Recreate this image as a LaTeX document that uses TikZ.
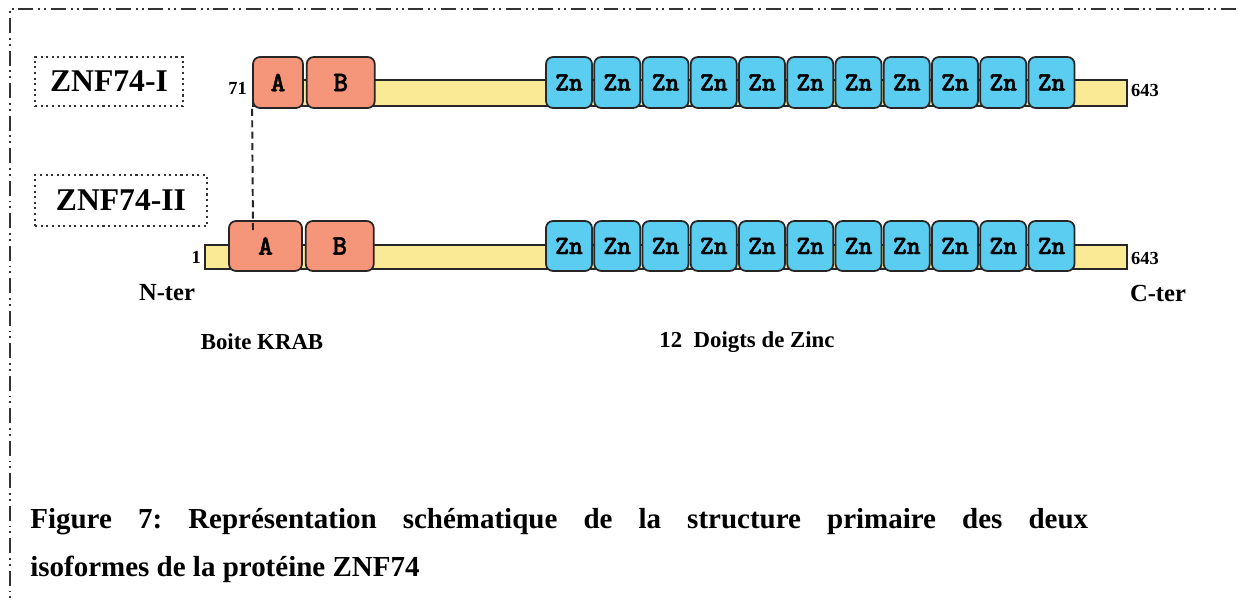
\documentclass[tikz,border=0pt]{standalone}
\usepackage{fontspec}
\setmainfont{Liberation Serif}
\newfontfamily\domainfont{lmmonolt10-bold.otf}[FakeBold=1.5]
\usepackage{xcolor}
\definecolor{KrabSalmon}{RGB}{245, 150, 122}
\definecolor{ZincBlue}{RGB}{90, 205, 240}
\definecolor{LinkerYellow}{RGB}{250, 234, 150}
\usetikzlibrary{positioning}

\begin{document}
\begin{tikzpicture}[
        x=0.02cm, y=-0.02cm,
        domainbox/.style={rectangle, draw=black!85, line width=1pt, rounded corners=4pt, minimum height=1cm, inner sep=0pt, font=\domainfont\fontsize{16}{16}\selectfont},
        krab/.style={domainbox, fill=KrabSalmon},
        zinc/.style={domainbox, fill=ZincBlue, minimum width=0.92cm, font=\domainfont\fontsize{15}{15}\selectfont},
        linker/.style={draw=black!85, line width=1pt, fill=LinkerYellow},
        isoform/.style={draw=black!80, dotted, line width=1.2pt, inner sep=0pt, font=\bfseries\fontsize{18}{18}\selectfont},
        posnum/.style={font=\bfseries\fontsize{10.5}{12}\selectfont, inner sep=1pt},
        term/.style={font=\bfseries\fontsize{14}{16}\selectfont},
        legend/.style={font=\bfseries\fontsize{13}{15}\selectfont}
    ]
        \useasboundingbox (0,0) rectangle (1241,601);

        % Frame
        \draw[black!80, line width=1.1pt, dash pattern=on 8.5pt off 2.8pt on 1.1pt off 2.2pt on 1.1pt off 2.8pt] (1236,9) -- (10,9) -- (10,601);

        % Isoform names
        \node[isoform, minimum width=2.96cm, minimum height=0.98cm] (iso1) at (109,81.5) {ZNF74-I};
        \node[isoform, minimum width=3.44cm, minimum height=1.02cm] (iso2) at (121,200.5) {ZNF74-II};

        % ZNF74-I
        \draw[linker] (253,80) rectangle (1127,106);
        \node[krab, minimum width=1cm, minimum height=1.02cm] (a1) at (278,82.5) {A};
        \node[krab, minimum width=1.36cm, minimum height=1.02cm, right=0.04cm of a1] (b1) {B};
        \node[zinc, minimum height=1.02cm] (zn1-1) at (569,82.5) {Zn};
        \foreach \i [remember=\i as \prev (initially 1)] in {2,...,11}
            \node[zinc, minimum height=1.02cm, right=0.01cm of zn1-\prev] (zn1-\i) {Zn};

        % ZNF74-II
        \draw[linker] (205,245) rectangle (1127,269);
        \node[krab, minimum width=1.46cm] (a2) at (265.5,246) {A};
        \node[krab, minimum width=1.36cm, right=0.04cm of a2] (b2) {B};
        \node[zinc] (zn2-1) at (569,246) {Zn};
        \foreach \i [remember=\i as \prev (initially 1)] in {2,...,11}
            \node[zinc, right=0.01cm of zn2-\prev] (zn2-\i) {Zn};

        % Positions and ends
        \node[posnum, anchor=east] (start1) at (249,88) {71};
        \node[posnum, anchor=east] (start2) at (203,257) {1};
        \node[posnum, anchor=west] (end1) at (1129,90) {643};
        \node[posnum, anchor=west] (end2) at (1129,258) {643};
        \node[term] (nter) at (167,293) {N-ter};
        \node[term] (cter) at (1158,293) {C-ter};

        % Domain names
        \node[legend] (krablab) at (262,342) {Boite KRAB};
        \node[legend] (znlab) at (747,342) {12\ \ Doigts de Zinc};

        % Start of ZNF74-I inside the KRAB box
        \coordinate (cut) at (253,232);
        \draw[black!85, line width=1.1pt, dash pattern=on 4pt off 2.5pt] (a1.south west) -- (cut);

        % Caption
        \node[anchor=north west, inner sep=0pt, text width=21.16cm, align=justify, font=\bfseries\fontsize{16.5}{27.5}\selectfont\frenchspacing] (caption) at (30,508)
            {Figure 7: Représentation schématique de la structure primaire des deux\linebreak isoformes de la protéine ZNF74};

    \end{tikzpicture}
\end{document}
